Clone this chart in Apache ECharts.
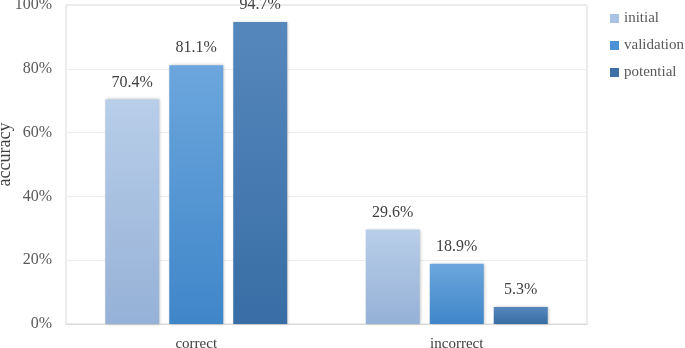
<!DOCTYPE html>
<html>
<head>
<meta charset="utf-8">
<script src="https://cdn.jsdelivr.net/npm/echarts@6/dist/echarts.min.js"></script>
<style>
  html, body { margin: 0; padding: 0; background: #fff; }
  #chart { width: 685px; height: 348px; }
</style>
</head>
<body>
<div id="chart"></div>
<script>
  var categories = ['correct', 'incorrect'];
  var seriesNames = ['initial', 'validation', 'potential'];
  var initialData = [70.4, 29.6];
  var validationData = [81.1, 18.9];
  var potentialData = [94.7, 5.3];
  var yTicks = [0, 20, 40, 60, 80, 100];

  // top / bottom colour of each bar gradient
  var gradients = [
    ['#b8cee9', '#96b1d7'],
    ['#6ca6dd', '#3f86c9'],
    ['#5687bc', '#386ea5']
  ];
  var legendColors = ['#a9c3e5', '#4a91d6', '#3e70a6'];

  var font = '"Liberation Serif", "Times New Roman", serif';

  function makeSeries(name, data, i) {
    return {
      name: name,
      type: 'bar',
      data: data,
      barWidth: 54,
      barGap: '18.5%',
      itemStyle: {
        color: new echarts.graphic.LinearGradient(0, 0, 0, 1, [
          { offset: 0, color: gradients[i][0] },
          { offset: 1, color: gradients[i][1] }
        ]),
        shadowColor: 'rgba(0,0,0,0.25)',
        shadowBlur: 3,
        shadowOffsetX: 1
      },
      label: {
        show: true,
        position: 'top',
        distance: 9,
        fontFamily: font,
        fontSize: 16,
        color: '#404040',
        formatter: function (p) { return p.value.toFixed(1) + '%'; }
      }
    };
  }

  var chart = echarts.init(document.getElementById('chart'));
  chart.setOption({
    animation: false,
    textStyle: { fontFamily: font },
    grid: {
      left: 66,
      right: 98,
      top: 5,
      bottom: 24,
      outerBoundsMode: 'none',
      containLabel: false,
      show: true,
      borderColor: '#d9d9d9',
      borderWidth: 1
    },
    legend: {
      orient: 'vertical',
      left: 610,
      top: 11,
      padding: 0,
      itemWidth: 9,
      itemHeight: 9,
      itemGap: 12,
      icon: 'rect',
      textStyle: { fontFamily: font, fontSize: 15, color: '#595959' },
      data: seriesNames.map(function (n, i) {
        return { name: n, itemStyle: { color: legendColors[i] } };
      })
    },
    xAxis: {
      type: 'category',
      data: categories,
      axisTick: { show: false },
      axisLine: { lineStyle: { color: '#d9d9d9' } },
      axisLabel: { fontFamily: font, fontSize: 15, color: '#404040', margin: 13 }
    },
    yAxis: {
      type: 'value',
      min: 0,
      max: 100,
      interval: 20,
      name: 'accuracy',
      nameLocation: 'middle',
      nameGap: 52,
      nameMoveOverlap: false,
      nameTextStyle: { fontFamily: font, fontSize: 18, color: '#404040', padding: [0, 0, 0, 20] },
      axisLabel: {
        fontFamily: font,
        fontSize: 16,
        color: '#595959',
        margin: 14,
        formatter: function (v) { return yTicks.indexOf(v) >= 0 ? v + '%' : ''; }
      },
      axisLine: { show: false },
      axisTick: { show: false },
      splitLine: { lineStyle: { color: '#ededed' } }
    },
    series: [
      makeSeries(seriesNames[0], initialData, 0),
      makeSeries(seriesNames[1], validationData, 1),
      makeSeries(seriesNames[2], potentialData, 2)
    ]
  });
</script>
</body>
</html>
